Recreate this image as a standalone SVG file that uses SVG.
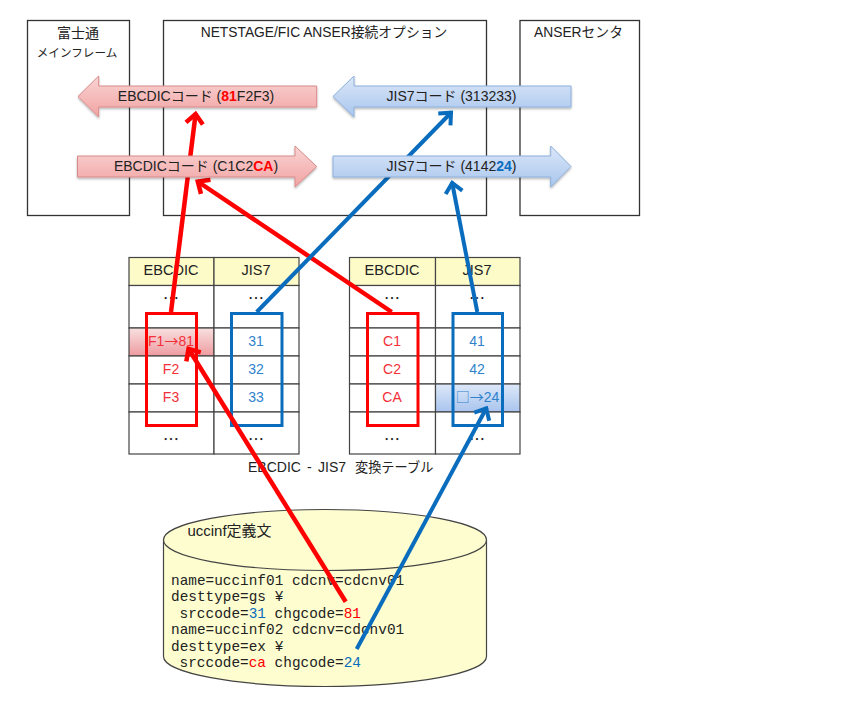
<svg xmlns="http://www.w3.org/2000/svg" width="864" height="720" viewBox="0 0 864 720">
<style>
text{font-family:"Liberation Sans","Noto Sans CJK JP",sans-serif;font-size:14px;fill:#222;text-anchor:middle}
.box{fill:#fff;stroke:#333;stroke-width:1.3}
.cell{fill:#fff;stroke:#444;stroke-width:1.2}
.hd{fill:#fdfbc8;stroke:#444;stroke-width:1.2}
text.th{font-size:14.500px}
.rt{fill:#f2303a}.bt{fill:#2f82cc}
.cjk{font-family:"Noto Sans CJK JP",sans-serif}
text.dots{font-family:"Noto Sans CJK JP",sans-serif;font-size:16px}
.frame-r{fill:none;stroke:#f00;stroke-width:3}
.frame-b{fill:none;stroke:#0a6cbd;stroke-width:3}
.red{fill:none;stroke:#f00;stroke-width:4.500}
.blue{fill:none;stroke:#0a6cbd;stroke-width:4}
.ra{fill:url(#rg);stroke:#d98a8a;stroke-width:1;filter:url(#sh)}
.ba{fill:url(#bg);stroke:#8db0dc;stroke-width:1;filter:url(#sh)}
text.code{font-family:"Liberation Mono","Noto Sans CJK JP",monospace;font-size:14.400px;text-anchor:start;fill:#222}
.r{fill:#f00}.b{fill:#0a6cbd}
</style>
<defs>
<filter id="sh" x="-5%" y="-20%" width="110%" height="150%"><feDropShadow dx="0" dy="1.500" stdDeviation="1" flood-color="#000" flood-opacity="0.300"/></filter>
<linearGradient id="rg" x1="0" y1="0" x2="0" y2="1"><stop offset="0" stop-color="#f9d4d4"/><stop offset="1" stop-color="#f2a3a3"/></linearGradient>
<linearGradient id="bg" x1="0" y1="0" x2="0" y2="1"><stop offset="0" stop-color="#dbe7f8"/><stop offset="1" stop-color="#a9c6ee"/></linearGradient>
<linearGradient id="rc" x1="0" y1="0" x2="0" y2="1"><stop offset="0" stop-color="#f8e0e0"/><stop offset="1" stop-color="#ee9ba0"/></linearGradient>
<linearGradient id="bc" x1="0" y1="0" x2="0" y2="1"><stop offset="0" stop-color="#dde8f8"/><stop offset="1" stop-color="#a9c4ee"/></linearGradient>
<marker id="hr" markerUnits="userSpaceOnUse" markerWidth="28" markerHeight="28" refX="14" refY="14" orient="auto" viewBox="0 0 28 28"><path d="M3.500 5.500L13 14L3.500 22.500" fill="none" stroke="#f00" stroke-width="4.500"/></marker>
<marker id="hb" markerUnits="userSpaceOnUse" markerWidth="28" markerHeight="28" refX="14" refY="14" orient="auto" viewBox="0 0 28 28"><path d="M3.500 5.500L13 14L3.500 22.500" fill="none" stroke="#0a6cbd" stroke-width="4"/></marker>
</defs>
<rect width="864" height="720" fill="#fff"/>
<g id="mainframe"><rect class="box" x="27.500" y="20.500" width="102" height="195"/><text x="78" y="38">富士通</text><text x="77" y="56.500" style="font-size:11.600px">メインフレーム</text></g>
<g id="option"><rect class="box" x="163.500" y="20.500" width="323" height="195"/><text x="324" y="37" style="font-size:13.800px">NETSTAGE/FIC ANSER接続オプション</text></g>
<g id="center"><rect class="box" x="520" y="20.500" width="119.500" height="195"/><text x="578.500" y="37" style="font-size:13.800px">ANSERセンタ</text></g>
<g id="table1">
<rect class="hd" x="129" y="257.500" width="85" height="28"/><rect class="hd" x="214" y="257.500" width="85" height="28"/>
<rect class="cell" x="129" y="285.500" width="85" height="42.500"/><rect class="cell" x="214" y="285.500" width="85" height="42.500"/>
<rect x="129" y="328" width="85" height="28" fill="url(#rc)" stroke="#444" stroke-width="1.200"/><rect class="cell" x="214" y="328" width="85" height="28"/>
<rect class="cell" x="129" y="356" width="85" height="28"/><rect class="cell" x="214" y="356" width="85" height="28"/>
<rect class="cell" x="129" y="384" width="85" height="28"/><rect class="cell" x="214" y="384" width="85" height="28"/>
<rect class="cell" x="129" y="412" width="85" height="42"/><rect class="cell" x="214" y="412" width="85" height="42"/>
<text class="th" x="171" y="275">EBCDIC</text><text class="th" x="256" y="275">JIS7</text>
<text class="dots" x="171" y="304">…</text><text class="dots" x="256" y="304">…</text>
<text class="rt" x="171" y="345.500">F1<tspan class="cjk">→</tspan>81</text><text class="bt" x="256" y="345.500">31</text>
<text class="rt" x="171" y="373.500">F2</text><text class="bt" x="256" y="373.500">32</text>
<text class="rt" x="171" y="401.500">F3</text><text class="bt" x="256" y="401.500">33</text>
<text class="dots" x="171" y="445">…</text><text class="dots" x="256" y="445">…</text>
</g>
<g id="table2">
<rect class="hd" x="349.500" y="257.500" width="86" height="28"/><rect class="hd" x="435.500" y="257.500" width="84.500" height="28"/>
<rect class="cell" x="349.500" y="285.500" width="86" height="42.500"/><rect class="cell" x="435.500" y="285.500" width="84.500" height="42.500"/>
<rect class="cell" x="349.500" y="328" width="86" height="28"/><rect class="cell" x="435.500" y="328" width="84.500" height="28"/>
<rect class="cell" x="349.500" y="356" width="86" height="28"/><rect class="cell" x="435.500" y="356" width="84.500" height="28"/>
<rect class="cell" x="349.500" y="384" width="86" height="28"/><rect x="435.500" y="384" width="84.500" height="28" fill="url(#bc)" stroke="#444" stroke-width="1.200"/>
<rect class="cell" x="349.500" y="412" width="86" height="42"/><rect class="cell" x="435.500" y="412" width="84.500" height="42"/>
<text class="th" x="392" y="275">EBCDIC</text><text class="th" x="477" y="275">JIS7</text>
<text class="dots" x="392" y="304">…</text><text class="dots" x="477" y="304">…</text>
<text class="rt" x="392" y="345.500">C1</text><text class="bt" x="477" y="345.500">41</text>
<text class="rt" x="392" y="373.500">C2</text><text class="bt" x="477" y="373.500">42</text>
<text class="rt" x="392" y="401.500">CA</text><text class="bt" x="477.500" y="401.500"><tspan class="cjk">□→</tspan>24</text>
<text class="dots" x="392" y="445">…</text><text class="dots" x="477" y="445">…</text>
</g>
<g id="store">
<path d="M163.500 540V656.500C163.500 673 236 686.500 325 686.500S486.500 673 486.500 656.500V540" fill="#fdfdd0" stroke="#444" stroke-width="1.200"/>
<ellipse cx="325" cy="540" rx="161.500" ry="30.500" fill="#fdfdd0" stroke="#444" stroke-width="1.200"/>
<text x="229.500" y="536" style="font-size:15px">uccinf定義文</text>
<text class="code" x="171" y="585">name=uccinf01 cdcnv=cdcnv01</text>
<text class="code" x="171" y="601">desttype=gs ¥</text>
<text class="code" x="179.600" y="618">srccode=<tspan class="b">31</tspan> chgcode=<tspan class="r">81</tspan></text>
<text class="code" x="171" y="634">name=uccinf02 cdcnv=cdcnv01</text>
<text class="code" x="171" y="650.500">desttype=ex ¥</text>
<text class="code" x="179.600" y="667">srccode=<tspan class="r">ca</tspan> chgcode=<tspan class="b">24</tspan></text>
</g>
<g id="caption"><text style="text-anchor:start" y="472"><tspan x="248">EBCDIC</tspan><tspan x="307">-</tspan><tspan x="318">JIS7</tspan><tspan x="355" style="font-size:13.200px">変換テーブル</tspan></text></g>
<g id="connectors">
<rect class="frame-r" x="146.500" y="313.500" width="50" height="112"/>
<rect class="frame-b" x="231.500" y="313.500" width="50.500" height="112"/>
<rect class="frame-r" x="367.500" y="313.500" width="50.500" height="112"/>
<rect class="frame-b" x="453" y="313.500" width="49.500" height="112"/>
<path class="red" d="M171 312L195.700 113" marker-end="url(#hr)"/>
<path class="red" d="M391.700 312L197 181" marker-end="url(#hr)"/>
<path class="blue" d="M256.700 312L451.700 112" marker-end="url(#hb)"/>
<path class="blue" d="M477.300 312L452 182" marker-end="url(#hb)"/>
<path class="red" d="M345.700 601.700L188 348" marker-end="url(#hr)"/>
<path class="blue" d="M356.700 649L486.700 407.500" marker-end="url(#hb)"/>
</g>
<g id="code-red-left"><path class="ra" d="M78 96.500L98.700 76V86H316.700V107H98.700V117Z"/><text x="196" y="101">EBCDICコード (<tspan class="r" font-weight="bold">81</tspan>F2F3)</text></g>
<g id="code-red-right"><path class="ra" d="M77.500 156H295V146L316.700 166.500L295 187V177H77.500Z"/><text x="196" y="171">EBCDICコード (C1C2<tspan class="r" font-weight="bold">CA</tspan>)</text></g>
<g id="code-blue-left"><path class="ba" d="M333 96.500L354 76V86H571V107H354V117Z"/><text x="451.500" y="101">JIS7コード (313233)</text></g>
<g id="code-blue-right"><path class="ba" d="M333 156H550.700V146L571 166.500L550.700 187V177H333Z"/><text x="451.500" y="171">JIS7コード (4142<tspan class="b" font-weight="bold">24</tspan>)</text></g>
</svg>
